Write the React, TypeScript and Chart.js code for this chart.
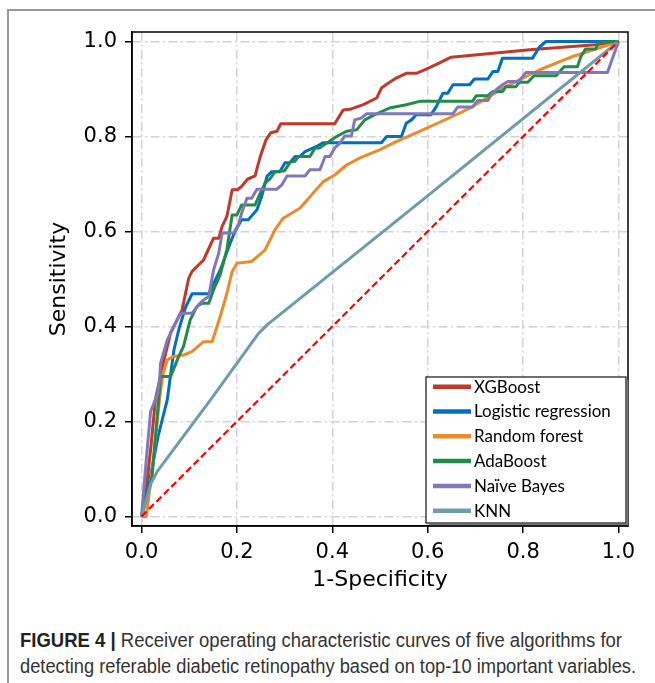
import React, { useEffect, useLayoutEffect, useRef } from "react";
import { Chart, registerables } from "chart.js";

Chart.register(...registerables);

// ---------- data ----------
const X_TICKS = [0, 0.2, 0.4, 0.6, 0.8, 1.0];
const Y_TICKS = [0, 0.2, 0.4, 0.6, 0.8, 1.0];

const SERIES_NAMES = ["XGBoost", "Logistic regression", "Random forest", "AdaBoost", "Naïve Bayes", "KNN"];
const SERIES_COLORS = ["#c0392b", "#0070c0", "#ec8b2c", "#228b4a", "#7f78bc", "#6f9bab"];

const XGB_FPR = [0, 0.01, 0.02, 0.029, 0.045, 0.061, 0.085, 0.099, 0.106, 0.130, 0.151, 0.162, 0.169, 0.179, 0.186, 0.190, 0.201, 0.210, 0.222, 0.238, 0.249, 0.261, 0.271, 0.284, 0.292, 0.405, 0.423, 0.440, 0.465, 0.493, 0.503, 0.517, 0.534, 0.555, 0.576, 0.597, 0.625, 0.649, 0.820, 0.952, 1.0];
const XGB_TPR = [0, 0.06, 0.15, 0.246, 0.32, 0.387, 0.435, 0.502, 0.516, 0.540, 0.586, 0.586, 0.611, 0.632, 0.667, 0.688, 0.688, 0.695, 0.710, 0.717, 0.758, 0.793, 0.808, 0.811, 0.827, 0.827, 0.856, 0.858, 0.867, 0.881, 0.902, 0.912, 0.923, 0.933, 0.933, 0.942, 0.955, 0.967, 0.983, 0.993, 1.0];

const LR_FPR = [0, 0.012, 0.035, 0.054, 0.068, 0.078, 0.092, 0.106, 0.141, 0.148, 0.165, 0.186, 0.196, 0.210, 0.224, 0.242, 0.252, 0.263, 0.273, 0.290, 0.301, 0.311, 0.322, 0.332, 0.343, 0.367, 0.381, 0.503, 0.514, 0.545, 0.555, 0.566, 0.576, 0.607, 0.618, 0.632, 0.642, 0.653, 0.688, 0.698, 0.726, 0.737, 0.747, 0.757, 0.820, 0.834, 0.848, 1.0];
const LR_TPR = [0, 0.05, 0.17, 0.246, 0.351, 0.393, 0.44, 0.469, 0.469, 0.484, 0.519, 0.576, 0.600, 0.625, 0.625, 0.646, 0.674, 0.716, 0.726, 0.726, 0.745, 0.745, 0.758, 0.758, 0.768, 0.779, 0.787, 0.787, 0.800, 0.800, 0.828, 0.835, 0.846, 0.846, 0.863, 0.891, 0.891, 0.909, 0.909, 0.921, 0.921, 0.937, 0.937, 0.965, 0.965, 0.988, 1.0, 1.0];

const RF_FPR = [0, 0.01, 0.025, 0.038, 0.045, 0.054, 0.068, 0.088, 0.106, 0.130, 0.148, 0.165, 0.179, 0.190, 0.200, 0.231, 0.259, 0.280, 0.297, 0.332, 0.360, 0.381, 0.405, 0.430, 0.458, 0.499, 0.534, 0.583, 0.625, 0.667, 0.694, 0.764, 0.834, 0.903, 1.0];
const RF_TPR = [0, 0, 0.12, 0.25, 0.30, 0.330, 0.337, 0.340, 0.347, 0.368, 0.368, 0.421, 0.470, 0.516, 0.533, 0.537, 0.561, 0.604, 0.628, 0.649, 0.681, 0.705, 0.719, 0.740, 0.755, 0.772, 0.789, 0.811, 0.830, 0.849, 0.863, 0.905, 0.940, 0.968, 1.0];

const ADA_FPR = [0, 0.022, 0.040, 0.061, 0.078, 0.088, 0.102, 0.116, 0.127, 0.141, 0.151, 0.165, 0.179, 0.190, 0.200, 0.210, 0.238, 0.249, 0.259, 0.270, 0.280, 0.300, 0.312, 0.322, 0.329, 0.353, 0.364, 0.374, 0.388, 0.409, 0.430, 0.451, 0.468, 0.485, 0.520, 0.555, 0.583, 0.694, 0.702, 0.726, 0.737, 0.757, 0.764, 0.785, 0.792, 0.810, 0.823, 0.869, 0.886, 0.914, 0.921, 0.931, 0.952, 0.959, 1.0];
const ADA_TPR = [0, 0.084, 0.295, 0.295, 0.337, 0.358, 0.414, 0.442, 0.449, 0.449, 0.477, 0.509, 0.562, 0.635, 0.635, 0.656, 0.656, 0.681, 0.702, 0.712, 0.726, 0.728, 0.746, 0.748, 0.758, 0.758, 0.776, 0.776, 0.786, 0.800, 0.811, 0.814, 0.835, 0.844, 0.860, 0.867, 0.874, 0.874, 0.886, 0.886, 0.895, 0.895, 0.905, 0.905, 0.914, 0.914, 0.928, 0.928, 0.947, 0.947, 0.968, 0.984, 0.984, 0.998, 1.0];

const NB_FPR = [0, 0.01, 0.019, 0.033, 0.038, 0.040, 0.054, 0.068, 0.082, 0.106, 0.120, 0.130, 0.141, 0.151, 0.162, 0.169, 0.193, 0.203, 0.210, 0.221, 0.231, 0.242, 0.284, 0.294, 0.305, 0.343, 0.353, 0.374, 0.385, 0.395, 0.405, 0.416, 0.426, 0.440, 0.447, 0.461, 0.472, 0.653, 0.663, 0.694, 0.705, 0.726, 0.733, 0.743, 0.757, 0.768, 0.790, 0.799, 0.806, 0.977, 1.0];
const NB_TPR = [0, 0.12, 0.221, 0.256, 0.288, 0.323, 0.372, 0.400, 0.428, 0.428, 0.446, 0.456, 0.463, 0.519, 0.555, 0.597, 0.597, 0.614, 0.639, 0.670, 0.670, 0.689, 0.689, 0.698, 0.717, 0.717, 0.730, 0.730, 0.758, 0.758, 0.776, 0.786, 0.801, 0.801, 0.835, 0.839, 0.848, 0.848, 0.862, 0.862, 0.876, 0.876, 0.888, 0.898, 0.909, 0.916, 0.916, 0.926, 0.935, 0.935, 1.0];

const KNN_FPR = [0, 0.02, 0.033, 0.145, 0.245, 0.265, 0.29, 0.59, 1.0];
const KNN_TPR = [0, 0.07, 0.095, 0.246, 0.385, 0.405, 0.425, 0.667, 1.0];

const DIAG_FPR = [0, 1];
const DIAG_TPR = [0, 1];

const CAPTION_LABEL = "FIGURE 4 |";
const CAPTION_LINE1 = "Receiver operating characteristic curves of five algorithms for";
const CAPTION_LINE2 = "detecting referable diabetic retinopathy based on top-10 important variables.";

// ---------- helpers ----------
const toPts = (xs: number[], ys: number[]) => xs.map((x, i) => ({ x, y: ys[i] }));

const SERIES = [
  [XGB_FPR, XGB_TPR],
  [LR_FPR, LR_TPR],
  [RF_FPR, RF_TPR],
  [ADA_FPR, ADA_TPR],
  [NB_FPR, NB_TPR],
  [KNN_FPR, KNN_TPR],
];

const framePlugin = {
  id: "frameAndLegend",
  afterDraw(chart: any) {
    const { ctx, chartArea: a } = chart;
    ctx.save();
    ctx.strokeStyle = "#000";
    ctx.lineWidth = 1.5;
    ctx.strokeRect(a.left, a.top, a.right - a.left, a.bottom - a.top);

    const w = 200;
    const h = 146;
    const lx = a.right - 202;
    const ly = a.bottom - 149;
    ctx.fillStyle = "#fff";
    ctx.fillRect(lx, ly, w, h);
    ctx.strokeStyle = "#777";
    ctx.lineWidth = 1.5;
    ctx.beginPath();
    ctx.moveTo(lx + w + 1.5, ly + 3);
    ctx.lineTo(lx + w + 1.5, ly + h + 1.5);
    ctx.lineTo(lx + 3, ly + h + 1.5);
    ctx.stroke();
    ctx.strokeStyle = "#111";
    ctx.lineWidth = 1.2;
    ctx.strokeRect(lx, ly, w, h);

    ctx.font = "100px Lato";
    const w100 = ctx.measureText("Logistic regression").width;
    const size = (100 * 137) / w100;
    ctx.font = `${size.toFixed(2)}px Lato`;
    ctx.textBaseline = "middle";
    ctx.textAlign = "left";
    SERIES_NAMES.forEach((name, i) => {
      const cy = ly + 9.7 + i * 24.8;
      ctx.strokeStyle = SERIES_COLORS[i];
      ctx.lineWidth = 4.5;
      ctx.beginPath();
      ctx.moveTo(lx + 7, cy);
      ctx.lineTo(lx + 45, cy);
      ctx.stroke();
      ctx.fillStyle = "#000";
      ctx.fillText(name, lx + 48, cy + 0.5);
    });
    ctx.restore();
  },
};

export default function App() {
  const canvasRef = useRef<HTMLCanvasElement | null>(null);
  const line1Ref = useRef<HTMLDivElement | null>(null);
  const line2Ref = useRef<HTMLDivElement | null>(null);

  useLayoutEffect(() => {
    const fit = (el: HTMLDivElement | null, target: number) => {
      if (!el) return;
      el.style.transform = "none";
      const w = el.scrollWidth;
      if (w > 0) el.style.transform = `scaleX(${target / w})`;
    };
    fit(line1Ref.current, 602);
    fit(line2Ref.current, 616);
  }, []);

  useEffect(() => {
    if (!canvasRef.current) return;
    const curves = SERIES.map(([xs, ys], i) => ({
      label: SERIES_NAMES[i],
      data: toPts(xs, ys),
      borderColor: SERIES_COLORS[i],
      borderWidth: 3,
      borderJoinStyle: "round" as const,
      pointRadius: 0,
      tension: 0,
      fill: false,
    }));
    const diag = {
      label: "diag",
      data: toPts(DIAG_FPR, DIAG_TPR),
      borderColor: "#ff0000",
      borderWidth: 2.2,
      borderDash: [7, 3.5],
      pointRadius: 0,
      tension: 0,
      fill: false,
    };
    const datasets = [diag, ...curves.slice().reverse()];

    const tickFont = { family: "'DejaVu Sans'", size: 21 };
    const titleFont = { family: "'DejaVu Sans'", size: 22 };
    const gridCommon = {
      color: "#d3d3d3",
      lineWidth: 1.5,
      tickColor: "#000",
      tickLength: 7,
      tickWidth: 1.5,
    };
    const borderCommon = { display: true, color: "#000", width: 1.5, dash: [9, 3.5, 2, 3.5] };

    const chart = new Chart(canvasRef.current, {
      type: "line",
      data: { datasets },
      options: {
        responsive: false,
        animation: false,
        events: [],
        layout: { padding: { left: 40, right: 27, top: 32, bottom: 7 } },
        plugins: { legend: { display: false }, tooltip: { enabled: false } },
        scales: {
          x: {
            type: "linear",
            min: -0.02,
            max: 1.02,
            afterBuildTicks: (s: any) => {
              s.ticks = X_TICKS.map((v) => ({ value: v }));
            },
            afterFit: (s: any) => {
              s.height = 67;
            },
            ticks: {
              callback: (v: any) => Number(v).toFixed(1),
              font: tickFont,
              color: "#000",
              padding: 7,
              maxRotation: 0,
              autoSkip: false,
            },
            grid: gridCommon,
            border: borderCommon,
            title: {
              display: true,
              text: "1-Specificity",
              font: titleFont,
              color: "#000",
              padding: { top: 0, bottom: 0 },
            },
          },
          y: {
            type: "linear",
            min: -0.02,
            max: 1.02,
            afterBuildTicks: (s: any) => {
              s.ticks = Y_TICKS.map((v) => ({ value: v }));
            },
            afterFit: (s: any) => {
              s.width = 92;
            },
            ticks: {
              callback: (v: any) => Number(v).toFixed(1),
              font: tickFont,
              color: "#000",
              padding: 8,
              autoSkip: false,
            },
            grid: gridCommon,
            border: borderCommon,
            title: {
              display: true,
              text: "Sensitivity",
              font: titleFont,
              color: "#000",
              padding: { top: 6, bottom: 0 },
            },
          },
        },
      },
      plugins: [framePlugin],
    } as any);
    return () => chart.destroy();
  }, []);

  const captionStyle: React.CSSProperties = {
    position: "absolute",
    left: 20,
    whiteSpace: "nowrap",
    fontFamily: "'Liberation Sans', Arial, sans-serif",
    fontSize: 19.5,
    lineHeight: "26px",
    color: "#333",
    transformOrigin: "0 50%",
  };

  return (
    <div style={{ position: "fixed", left: 0, top: 0, width: 655, height: 683, background: "#fff", overflow: "hidden" }}>
      <div style={{ position: "absolute", left: 7, top: 9, width: 1.5, height: 674, background: "#999" }} />
      <div style={{ position: "absolute", left: 7, top: 9, width: 648, height: 1.5, background: "#999" }} />
      <canvas ref={canvasRef} width={655} height={600} style={{ position: "absolute", left: 0, top: 0, width: 655, height: 600 }} />
      <div ref={line1Ref} style={{ ...captionStyle, top: 627 }}>
        <span style={{ fontWeight: "bold", color: "#222" }}>{CAPTION_LABEL}</span> {CAPTION_LINE1}
      </div>
      <div ref={line2Ref} style={{ ...captionStyle, top: 653 }}>{CAPTION_LINE2}</div>
    </div>
  );
}
